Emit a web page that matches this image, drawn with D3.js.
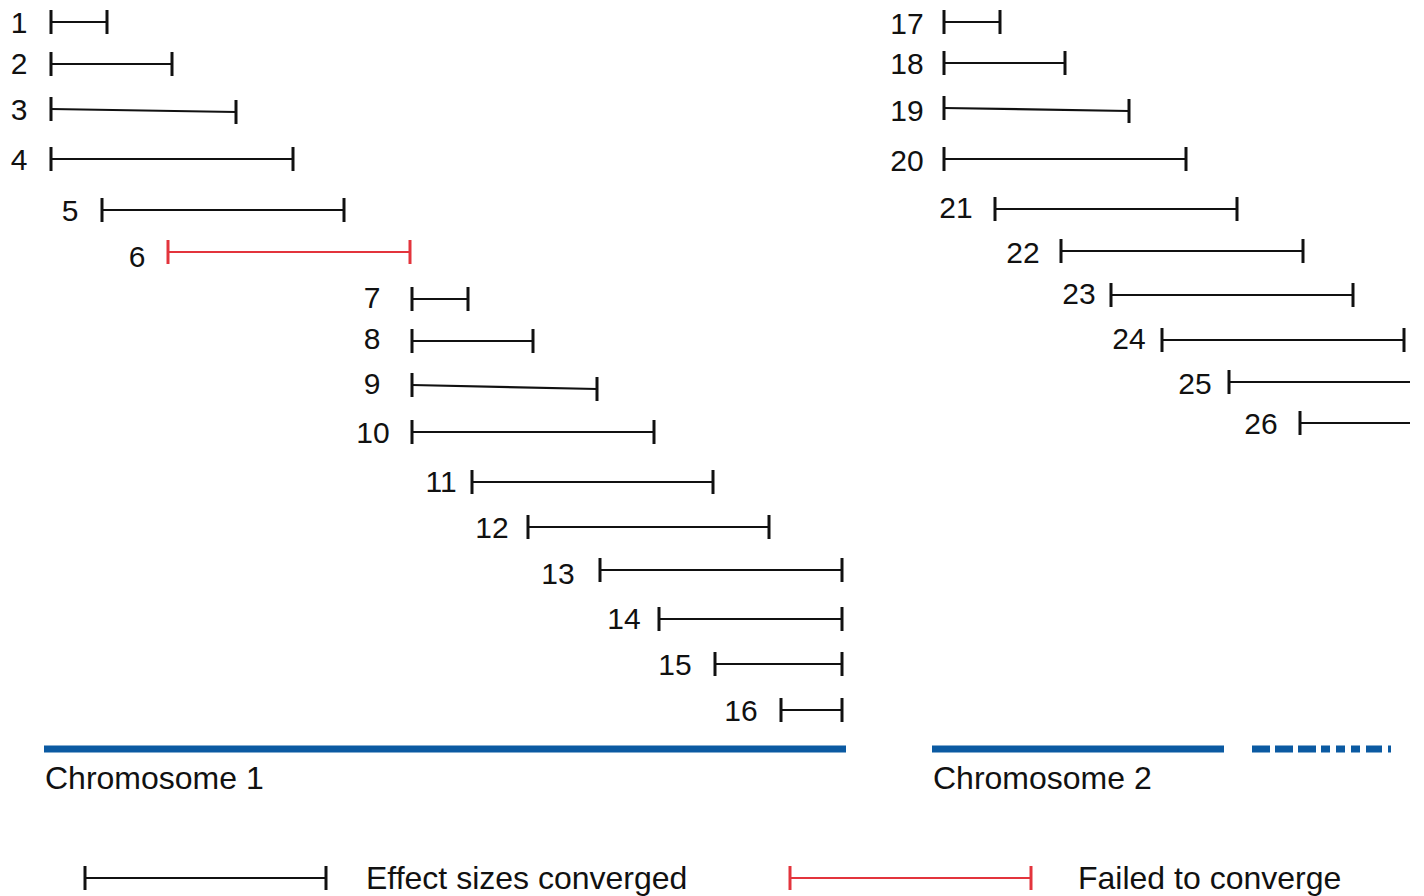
<!DOCTYPE html>
<html lang="en">
<head>
    <meta charset="UTF-8">
    <title>Chromosome windows</title>
    <script src="https://d3js.org/d3.v7.min.js"></script>
    <style>
        body {
            margin: 0;
            background: #fff;
            font-family: "Liberation Sans", Arial, sans-serif;
        }
        svg {
            display: block;
        }
    </style>
</head>
<body>
    <svg></svg>

    <script>
        // window labels, start/end positions (chart units) and row positions
        const labels = d3.range(1, 27).map(String);
        const starts = [51, 51, 51, 51, 102, 168, 412, 412, 412, 412, 472, 528, 600, 659, 715, 781,
                        944, 944, 944, 944, 995, 1061, 1111, 1162, 1229, 1300];
        const ends   = [107, 172, 236, 293, 344, 410, 468, 533, 597, 654, 713, 769, 842, 842, 842, 842,
                        1000, 1065, 1129, 1186, 1237, 1303, 1353, 1404, 1410, 1410];
        const rowsStart = [22, 64, 109, 159, 210, 252, 299, 341, 385, 432, 482, 527, 570, 619, 664, 710,
                           22, 63, 108, 159, 209, 251, 295, 340, 382, 423];
        const rowsEnd   = [22, 64, 112, 159, 210, 252, 299, 341, 389, 432, 482, 527, 570, 619, 664, 710,
                           22, 63, 111, 159, 209, 251, 295, 340, 382, 423];
        // where each number label sits (centre)
        const labelX = [19, 19, 19, 19, 70, 137, 372, 372, 372, 373, 441, 492, 558, 624, 675, 741,
                        907, 907, 907, 907, 956, 1023, 1079, 1129, 1195, 1261];
        const labelY = [22, 63, 109, 159, 210, 256, 297, 338, 383, 432, 481, 527, 573, 618, 664, 710,
                        23, 63, 110, 160, 207, 252, 293, 338, 383, 423];
        const converged = labels.map(l => l !== "6");
        const openEnded = labels.map(l => l === "25" || l === "26");

        // chromosomes
        const chromNames = ["Chromosome 1", "Chromosome 2"];
        const chromStart = [44, 932];
        const chromEnd = [846, 1224];
        const chromTailEnd = [null, 1392];
        const chromRow = 749;

        const legendLabels = ["Effect sizes converged", "Failed to converge"];
        const legendStart = [85, 790];
        const legendEnd = [326, 1031];
        const legendTextX = [366, 1078];
        const legendRow = 878;

        const W = 1424, H = 896;
        const x = d3.scaleLinear().domain([0, 1424]).range([0, W]);
        const y = d3.scaleLinear().domain([0, 896]).range([0, H]);

        const black = "#111", red = "#e3343c", blue = "#0b5aa2";
        const tick = 12;
        const numSize = 30;

        const svg = d3.select("svg").attr("width", W).attr("height", H);

        const data = labels.map((l, i) => ({
            label: l, x0: starts[i], x1: ends[i], y0: rowsStart[i], y1: rowsEnd[i],
            lx: labelX[i], ly: labelY[i], ok: converged[i], open: openEnded[i]
        }));

        const seg = svg.append("g").selectAll("g.win").data(data).join("g").attr("class", "win");

        seg.append("line")
            .attr("x1", d => x(d.x0)).attr("x2", d => x(d.x1))
            .attr("y1", d => y(d.y0)).attr("y2", d => y(d.y1))
            .attr("stroke", d => d.ok ? black : red)
            .attr("stroke-width", 2.2);

        seg.append("line")
            .attr("x1", d => x(d.x0)).attr("x2", d => x(d.x0))
            .attr("y1", d => y(d.y0) - tick).attr("y2", d => y(d.y0) + tick)
            .attr("stroke", d => d.ok ? black : red)
            .attr("stroke-width", 3);

        seg.filter(d => !d.open).append("line")
            .attr("x1", d => x(d.x1)).attr("x2", d => x(d.x1))
            .attr("y1", d => y(d.y1) - tick).attr("y2", d => y(d.y1) + tick)
            .attr("stroke", d => d.ok ? black : red)
            .attr("stroke-width", 3);

        seg.append("text")
            .attr("x", d => x(d.lx))
            .attr("y", d => y(d.ly) + numSize * 0.36)
            .attr("text-anchor", "middle")
            .attr("font-size", numSize)
            .attr("fill", black)
            .text(d => d.label);

        // chromosome bars
        chromNames.forEach((name, i) => {
            svg.append("line")
                .attr("x1", x(chromStart[i])).attr("x2", x(chromEnd[i]))
                .attr("y1", y(chromRow)).attr("y2", y(chromRow))
                .attr("stroke", blue).attr("stroke-width", 7);
            if (chromTailEnd[i] !== null) {
                svg.append("line")
                    .attr("x1", x(chromEnd[i] + 28)).attr("x2", x(chromTailEnd[i]))
                    .attr("y1", y(chromRow)).attr("y2", y(chromRow))
                    .attr("stroke", blue).attr("stroke-width", 7)
                    .attr("stroke-dasharray", "18,5,18,5,18,5,9,6,9,6,9,6,16,6,3,100");
            }
            svg.append("text")
                .attr("x", x(chromStart[i]) + 1)
                .attr("y", y(chromRow) + 40)
                .attr("font-size", 32)
                .attr("fill", black)
                .text(name);
        });

        // legend
        legendLabels.forEach((name, i) => {
            const c = i === 0 ? black : red;
            svg.append("line")
                .attr("x1", x(legendStart[i])).attr("x2", x(legendEnd[i]))
                .attr("y1", y(legendRow)).attr("y2", y(legendRow))
                .attr("stroke", c).attr("stroke-width", 2.2);
            [legendStart[i], legendEnd[i]].forEach(v => {
                svg.append("line")
                    .attr("x1", x(v)).attr("x2", x(v))
                    .attr("y1", y(legendRow) - tick).attr("y2", y(legendRow) + tick)
                    .attr("stroke", c).attr("stroke-width", 3);
            });
            svg.append("text")
                .attr("x", x(legendTextX[i]))
                .attr("y", y(legendRow) + 11)
                .attr("font-size", 32)
                .attr("fill", black)
                .text(name);
        });
    </script>
</body>
</html>
